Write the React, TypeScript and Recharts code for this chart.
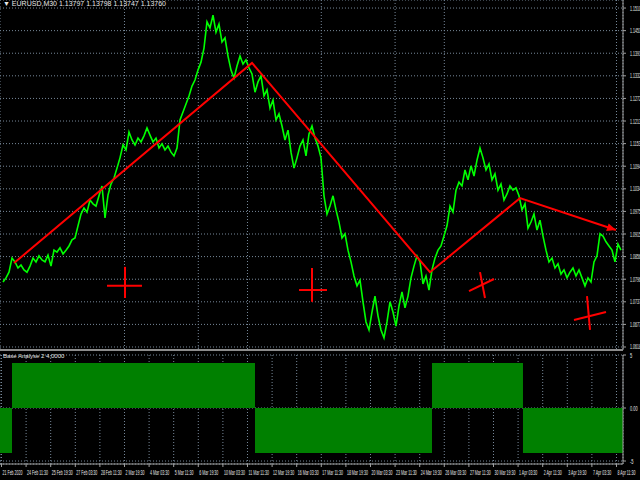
import {
  ComposedChart,
  Line,
  Area,
  XAxis,
  YAxis,
  CartesianGrid,
  ReferenceLine,
} from 'recharts';

// EURUSD M30 closes, one value per three bar slots
const closes = [
  1.0789, 1.08, 1.0815, 1.0852, 1.0842, 1.0826, 1.0834, 1.0821, 1.0815, 1.0831,
  1.0852, 1.0842, 1.0858, 1.0847, 1.0842, 1.086, 1.0831, 1.0873, 1.0868, 1.0879,
  1.0863, 1.0873, 1.0884, 1.09, 1.0905, 1.0937, 1.0968, 1.0984, 1.0973, 1.1005,
  1.0995, 1.0989, 1.1016, 1.1042, 1.0958, 1.1018, 1.1047, 1.1063, 1.1089, 1.1116,
  1.115, 1.1137, 1.1184, 1.1163, 1.115, 1.1168, 1.1158, 1.1174, 1.1195, 1.1176,
  1.1158, 1.1168, 1.1142, 1.1153, 1.1137, 1.1147, 1.1131, 1.1121, 1.1142, 1.1216,
  1.1237, 1.1258, 1.1279, 1.1305, 1.1321, 1.1347, 1.1368, 1.1405, 1.1474, 1.1458,
  1.1492, 1.1447, 1.1468, 1.1421, 1.1432, 1.1384, 1.1347, 1.1326, 1.1358, 1.1384,
  1.1363, 1.1374, 1.1353, 1.1337, 1.1289, 1.1316, 1.1332, 1.1279, 1.1295, 1.1247,
  1.1268, 1.1216, 1.1232, 1.12, 1.1163, 1.1189, 1.1131, 1.1089, 1.1116, 1.1147,
  1.1163, 1.1121, 1.1179, 1.12, 1.1168, 1.1147, 1.1116, 1.1016, 1.0968, 1.0989,
  1.1016, 1.0979, 1.0947, 1.0905, 1.0916, 1.0873, 1.0842, 1.0805, 1.0779, 1.0794,
  1.0737, 1.0684, 1.0663, 1.071, 1.0752, 1.07, 1.0663, 1.0642, 1.0684, 1.0737,
  1.071, 1.0673, 1.0726, 1.0763, 1.0721, 1.0752, 1.08, 1.0831, 1.0858, 1.0842,
  1.0784, 1.0805, 1.0768, 1.0821, 1.0852, 1.0873, 1.0884, 1.091, 1.0937, 1.0989,
  1.0973, 1.1031, 1.1052, 1.1042, 1.1084, 1.1058, 1.1095, 1.1068, 1.111, 1.1142,
  1.1116, 1.1084, 1.11, 1.1058, 1.1074, 1.1031, 1.1047, 1.1005, 1.1021, 1.1042,
  1.1031, 1.1037, 1.1016, 1.0979, 1.0995, 1.0931, 1.0947, 1.0968, 1.0926, 1.0952,
  1.091, 1.0873, 1.0842, 1.0852, 1.0826, 1.0837, 1.081, 1.0821, 1.08, 1.0815,
  1.0826, 1.0805, 1.0821, 1.08, 1.0779, 1.08, 1.0789, 1.0842, 1.0858, 1.0916,
  1.091, 1.0895, 1.0884, 1.0873, 1.0842, 1.0889, 1.0873,
];

// zigzag pivots (bar slot, price)
const zigzagBar = [3.67, 83, 142.33, 172.33, 204.33];
const zigzagPrice = [1.0839, 1.1366, 1.0815, 1.101, 1.0926];

// hand-drawn cross marks, two strokes each: [bar1, price1, bar2, price2]
const crossStrokes = [
  [34.67, 1.0779, 46.33, 1.0779],
  [40.67, 1.0829, 40.67, 1.0747],
  [98.67, 1.0768, 108, 1.0768],
  [103, 1.0826, 103, 1.0737],
  [155.33, 1.0765, 163.67, 1.0797],
  [159, 1.0815, 160.67, 1.0747],
  [190.33, 1.0689, 201, 1.071],
  [194.67, 1.0752, 195.67, 1.0663],
];

const priceTicks = [
  1.0618, 1.06775, 1.0737, 1.07965, 1.0856, 1.09155, 1.0975, 1.10345,
  1.1094, 1.11535, 1.1213, 1.12725, 1.1332, 1.13915, 1.1451, 1.15105,
];

const dateLabels = [
  '21 Feb 2020', '24 Feb 11:30', '25 Feb 19:30', '27 Feb 03:30', '28 Feb 11:30',
  '2 Mar 19:30', '4 Mar 03:30', '5 Mar 11:30', '6 Mar 19:30', '10 Mar 03:30',
  '11 Mar 11:30', '12 Mar 19:30', '16 Mar 03:30', '17 Mar 11:30', '18 Mar 19:30',
  '20 Mar 03:30', '23 Mar 11:30', '24 Mar 19:30', '26 Mar 03:30', '27 Mar 11:30',
  '30 Mar 19:30', '1 Apr 03:30', '2 Apr 11:30', '3 Apr 19:30', '7 Apr 03:30',
  '8 Apr 11:30',
];

// Base Analyse 2 histogram, constant between switch points
const signalBar = [-1, 3, 84, 143, 173.33, 206.67];
const signalValue = [-4.25, 4.25, -4.25, 4.25, -4.25, -4.25];
const signalTicks = [5, 0, -5];

const FONT = '"Liberation Sans", Arial, sans-serif';
const GRID = '#778899';
const AXIS = '#a0a0a0';
const TEXT = '#e8e8e8';
const X_DOMAIN: [number, number] = [-1, 206.67];
const LABEL_STEP = 8.2; // bar slots between date labels

const dateTicks = dateLabels.map((_, k) => k * LABEL_STEP - 0.5);
const priceData = closes.map((p, i) => ({ i, p }));
const zigzagData = zigzagBar.map((b, k) => ({ i: b, p: zigzagPrice[k] }));
const signalData = signalBar.map((b, k) => ({ i: b, v: signalValue[k] }));

// terminal-style horizontally squeezed label
const Squeezed = ({ x, y, text, sx }: { x: number; y: number; text: string; sx: number }) => (
  <g transform={`translate(${x},${y}) scale(${sx},1)`}>
    <text x={0} y={0} fontSize={6.5} fill={TEXT} fontFamily={FONT} textAnchor="start">
      {text}
    </text>
  </g>
);

const PriceTick = ({ x, y, payload }: any) => (
  <Squeezed x={x + 2} y={y + 2.5} text={Number(payload.value).toFixed(5)} sx={0.55} />
);

const SignalTick = ({ x, y, payload }: any) => (
  <Squeezed
    x={x + 2}
    y={y + 2.5}
    text={payload.value === 0 ? '0.00' : String(payload.value)}
    sx={0.6}
  />
);

const DateTick = ({ x, y, payload }: any) => {
  const k = dateTicks.indexOf(payload.value);
  return <Squeezed x={x + 1} y={y + 6} text={dateLabels[k] ?? ''} sx={0.55} />;
};

const ArrowDot = (props: any) => {
  const { cx, cy, index, points } = props;
  if (index !== zigzagData.length - 1) return <g key={`d${index}`} />;
  let ang = 0.32;
  if (points && points.length > 1) {
    const prev = points[points.length - 2];
    ang = Math.atan2(cy - prev.y, cx - prev.x);
  }
  const len = 9;
  const half = 4;
  const bx = cx - len * Math.cos(ang);
  const by = cy - len * Math.sin(ang);
  const nx = -Math.sin(ang) * half;
  const ny = Math.cos(ang) * half;
  return (
    <polygon
      key={`d${index}`}
      points={`${cx},${cy} ${bx + nx},${by + ny} ${bx - nx},${by - ny}`}
      fill="#ff0000"
    />
  );
};

export default function App() {
  return (
    <div
      style={{
        position: 'fixed',
        left: 0,
        top: 0,
        width: 640,
        height: 480,
        background: '#000',
        overflow: 'hidden',
        fontFamily: FONT,
      }}
    >
      <ComposedChart
        width={640}
        height={350}
        data={priceData}
        margin={{ top: 0, right: 0, bottom: 0, left: 0 }}
        style={{ position: 'absolute', left: 0, top: 0 }}
      >
        <CartesianGrid stroke={GRID} strokeDasharray="1 2" />
        <XAxis
          type="number"
          dataKey="i"
          domain={X_DOMAIN}
          allowDataOverflow
          ticks={dateTicks}
          hide
        />
        <YAxis
          orientation="right"
          width={17}
          domain={[1.06101, 1.153165]}
          allowDataOverflow
          ticks={priceTicks}
          interval={0}
          tick={<PriceTick />}
          tickSize={3}
          stroke={AXIS}
        />
        <Line
          dataKey="p"
          stroke="#00ff00"
          strokeWidth={1.6}
          dot={false}
          activeDot={false}
          isAnimationActive={false}
        />
        <Line
          data={zigzagData}
          dataKey="p"
          stroke="#ff0000"
          strokeWidth={2}
          dot={ArrowDot}
          activeDot={false}
          isAnimationActive={false}
        />
        {crossStrokes.map(([b1, p1, b2, p2], k) => (
          <ReferenceLine
            key={k}
            segment={[
              { x: b1, y: p1 },
              { x: b2, y: p2 },
            ]}
            stroke="#ff0000"
            strokeWidth={2}
            ifOverflow="visible"
          />
        ))}
      </ComposedChart>

      <div
        style={{
          position: 'absolute',
          left: 3,
          top: 0,
          fontSize: 7,
          color: TEXT,
          whiteSpace: 'nowrap',
        }}
      >
        ▼ EURUSD,M30 1.13797 1.13798 1.13747 1.13760
      </div>

      <div
        style={{
          position: 'absolute',
          left: 0,
          top: 349,
          width: 623,
          height: 2,
          background: '#8c8c8c',
        }}
      />

      <ComposedChart
        width={640}
        height={128}
        data={signalData}
        margin={{ top: 3, right: 0, bottom: 0, left: 0 }}
        style={{ position: 'absolute', left: 0, top: 352 }}
      >
        <CartesianGrid stroke={GRID} strokeDasharray="1 2" />
        <XAxis
          type="number"
          dataKey="i"
          domain={X_DOMAIN}
          allowDataOverflow
          ticks={dateTicks}
          interval={0}
          height={16}
          tick={<DateTick />}
          tickSize={3}
          stroke={AXIS}
        />
        <YAxis
          orientation="right"
          width={17}
          domain={[-5.28, 5]}
          allowDataOverflow
          ticks={signalTicks}
          interval={0}
          tick={<SignalTick />}
          tickSize={3}
          stroke={AXIS}
        />
        <Area
          type="stepAfter"
          dataKey="v"
          stroke="none"
          fill="#008000"
          fillOpacity={1}
          dot={false}
          activeDot={false}
          isAnimationActive={false}
        />
      </ComposedChart>

      <div
        style={{
          position: 'absolute',
          left: 3,
          top: 353,
          fontSize: 6,
          color: TEXT,
          whiteSpace: 'nowrap',
        }}
      >
        Base Analyse 2 4.0000
      </div>
    </div>
  );
}
